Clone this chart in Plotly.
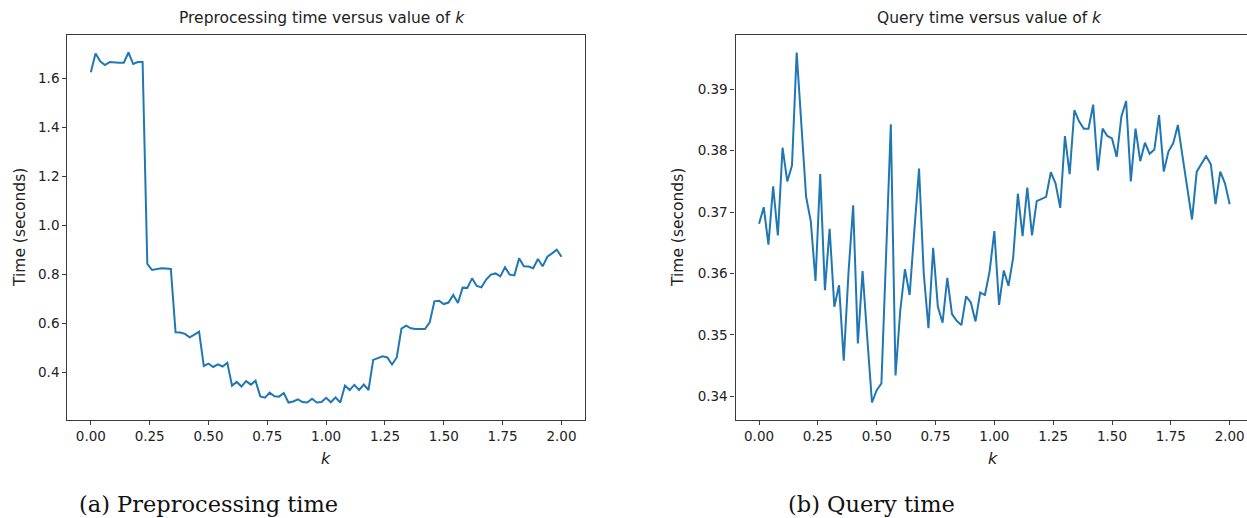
import plotly.graph_objects as go

# ---- data ----
k_values = [0.00, 0.02, 0.04, 0.06, 0.08, 0.10, 0.12, 0.14, 0.16, 0.18,
            0.20, 0.22, 0.24, 0.26, 0.28, 0.30, 0.32, 0.34, 0.36, 0.38,
            0.40, 0.42, 0.44, 0.46, 0.48, 0.50, 0.52, 0.54, 0.56, 0.58,
            0.60, 0.62, 0.64, 0.66, 0.68, 0.70, 0.72, 0.74, 0.76, 0.78,
            0.80, 0.82, 0.84, 0.86, 0.88, 0.90, 0.92, 0.94, 0.96, 0.98,
            1.00, 1.02, 1.04, 1.06, 1.08, 1.10, 1.12, 1.14, 1.16, 1.18,
            1.20, 1.22, 1.24, 1.26, 1.28, 1.30, 1.32, 1.34, 1.36, 1.38,
            1.40, 1.42, 1.44, 1.46, 1.48, 1.50, 1.52, 1.54, 1.56, 1.58,
            1.60, 1.62, 1.64, 1.66, 1.68, 1.70, 1.72, 1.74, 1.76, 1.78,
            1.80, 1.82, 1.84, 1.86, 1.88, 1.90, 1.92, 1.94, 1.96, 1.98,
            2.00]

preprocessing_time = [
    1.626, 1.703, 1.671, 1.656, 1.668, 1.665, 1.665, 1.665, 1.707, 1.660,
    1.668, 1.668, 0.844, 0.819, 0.824, 0.826, 0.825, 0.823, 0.565, 0.564,
    0.558, 0.544, 0.555, 0.567, 0.427, 0.437, 0.423, 0.434, 0.425, 0.440,
    0.347, 0.362, 0.343, 0.365, 0.351, 0.367, 0.303, 0.298, 0.318, 0.303,
    0.302, 0.317, 0.278, 0.282, 0.291, 0.280, 0.278, 0.293, 0.278, 0.280,
    0.297, 0.279, 0.299, 0.278, 0.347, 0.329, 0.350, 0.329, 0.351, 0.329,
    0.452, 0.460, 0.467, 0.462, 0.433, 0.462, 0.580, 0.592, 0.581, 0.578,
    0.578, 0.578, 0.605, 0.691, 0.693, 0.680, 0.686, 0.717, 0.684, 0.747,
    0.746, 0.785, 0.754, 0.748, 0.780, 0.800, 0.805, 0.793, 0.830, 0.800,
    0.797, 0.867, 0.834, 0.833, 0.826, 0.864, 0.834, 0.873, 0.887, 0.902,
    0.873]

query_time = [
    0.3681, 0.3708, 0.3647, 0.3742, 0.3662, 0.3805, 0.3750, 0.3776, 0.3960, 0.3845,
    0.3725, 0.3685, 0.3588, 0.3762, 0.3573, 0.3673, 0.3546, 0.3581, 0.3458, 0.3600,
    0.3711, 0.3486, 0.3604, 0.3495, 0.3390, 0.3410, 0.3421, 0.3630, 0.3843, 0.3434,
    0.3539, 0.3607, 0.3565, 0.3670, 0.3771, 0.3600, 0.3511, 0.3642, 0.3546, 0.3520,
    0.3593, 0.3534, 0.3523, 0.3516, 0.3563, 0.3553, 0.3522, 0.3569, 0.3565, 0.3604,
    0.3669, 0.3549, 0.3605, 0.3580, 0.3626, 0.3730, 0.3661, 0.3740, 0.3662, 0.3718,
    0.3722, 0.3725, 0.3765, 0.3747, 0.3707, 0.3824, 0.3762, 0.3866, 0.3848, 0.3836,
    0.3836, 0.3875, 0.3768, 0.3836, 0.3824, 0.3820, 0.3790, 0.3856, 0.3881, 0.3750,
    0.3836, 0.3783, 0.3813, 0.3795, 0.3802, 0.3858, 0.3766, 0.3799, 0.3812, 0.3842,
    0.3790, 0.3740, 0.3688, 0.3766, 0.3778, 0.3791, 0.3778, 0.3713, 0.3766, 0.3747,
    0.3713]

x_ticks = [0.00, 0.25, 0.50, 0.75, 1.00, 1.25, 1.50, 1.75, 2.00]
left_y_ticks = [0.4, 0.6, 0.8, 1.0, 1.2, 1.4, 1.6]
right_y_ticks = [0.34, 0.35, 0.36, 0.37, 0.38, 0.39]

titles = ["Preprocessing time versus value of <i>k</i>",
          "Query time versus value of <i>k</i>"]
captions = ["(a) Preprocessing time", "(b) Query time"]
y_label = "Time (seconds)"
x_label = "<i>k</i>"

# ---- styling ----
W, H = 1247, 518
TOP, BOT = 35, 420
LINE = "#1f77b4"
SPINE = "#3a3a3a"
TXT = "#222222"
FONT = "DejaVu Sans"


def padded(vals, frac=0.05):
    lo, hi = min(vals), max(vals)
    d = (hi - lo) * frac
    return [lo - d, hi + d]


left_px = (67.3, 585.0)
right_px = (735.5, 1247.0)

fig = go.Figure()
fig.add_trace(go.Scatter(x=k_values, y=preprocessing_time, mode="lines",
                         line=dict(color=LINE, width=2), xaxis="x", yaxis="y",
                         showlegend=False, hoverinfo="skip"))
fig.add_trace(go.Scatter(x=k_values, y=query_time, mode="lines",
                         line=dict(color=LINE, width=2), xaxis="x2", yaxis="y2",
                         showlegend=False, hoverinfo="skip"))

axis_common = dict(showgrid=False, zeroline=False, showline=True,
                   linecolor=SPINE, linewidth=1.2, ticks="outside",
                   ticklen=4, tickwidth=1, tickcolor=SPINE,
                   tickfont=dict(family=FONT, size=13.5, color=TXT))

# right panel is cut at the image edge: x span continues beyond canvas
px_per_unit = (left_px[1] - left_px[0]) / 2.2
right_end = -0.1 + (right_px[1] - right_px[0]) / px_per_unit

fig.update_layout(
    width=W, height=H,
    margin=dict(l=0, r=0, t=TOP, b=H - BOT),
    paper_bgcolor="white", plot_bgcolor="white",
    xaxis=dict(domain=[left_px[0] / W, left_px[1] / W], range=[-0.1, 2.1],
               tickvals=x_ticks, tickformat=".2f", mirror=True, anchor="y",
               **axis_common),
    yaxis=dict(domain=[0, 1], range=padded(preprocessing_time),
               tickvals=left_y_ticks, tickformat=".1f", mirror=True, anchor="x",
               **axis_common),
    xaxis2=dict(domain=[right_px[0] / W, 1.0], range=[-0.1, right_end],
                tickvals=x_ticks, tickformat=".2f", mirror=True, anchor="y2",
                **axis_common),
    yaxis2=dict(domain=[0, 1], range=padded(query_time),
                tickvals=right_y_ticks, tickformat=".2f", mirror=False, anchor="x2",
                **axis_common),
)

ann = []
centers = [(left_px[0] + left_px[1]) / 2, (right_px[0] + 1251.4) / 2]
for i, t in enumerate(titles):
    ann.append(dict(text=t, x=centers[i] - 4, y=18, size=15.5))
    ann.append(dict(text=x_label, x=centers[i], y=458, size=16))
for xx in [20, 678]:
    ann.append(dict(text=y_label, x=xx, y=228, size=15.5, angle=-90))
for i, c in enumerate(captions):
    ann.append(dict(text=c, x=[77, 786][i], y=504, size=22.5, serif=True))

plot_h = BOT - TOP
annotations = []
for a in ann:
    d = dict(text=a["text"], xref="paper", yref="paper", showarrow=False,
             x=a["x"] / W, y=(BOT - a["y"]) / plot_h,
             yanchor="middle",
             font=dict(family="DejaVu Serif" if a.get("serif") else FONT,
                       size=a["size"], color="#111111" if a.get("serif") else TXT))
    if a.get("serif"):
        d["xanchor"] = "left"
    else:
        d["xanchor"] = "center"
    if "angle" in a:
        d["textangle"] = a["angle"]
    annotations.append(d)
fig.update_layout(annotations=annotations)

fig.write_html("out.html",
               config={"displayModeBar": False},
               post_script="document.body.style.margin='0';"
                           "document.body.style.padding='0';"
                           "document.body.style.overflow='hidden';")
